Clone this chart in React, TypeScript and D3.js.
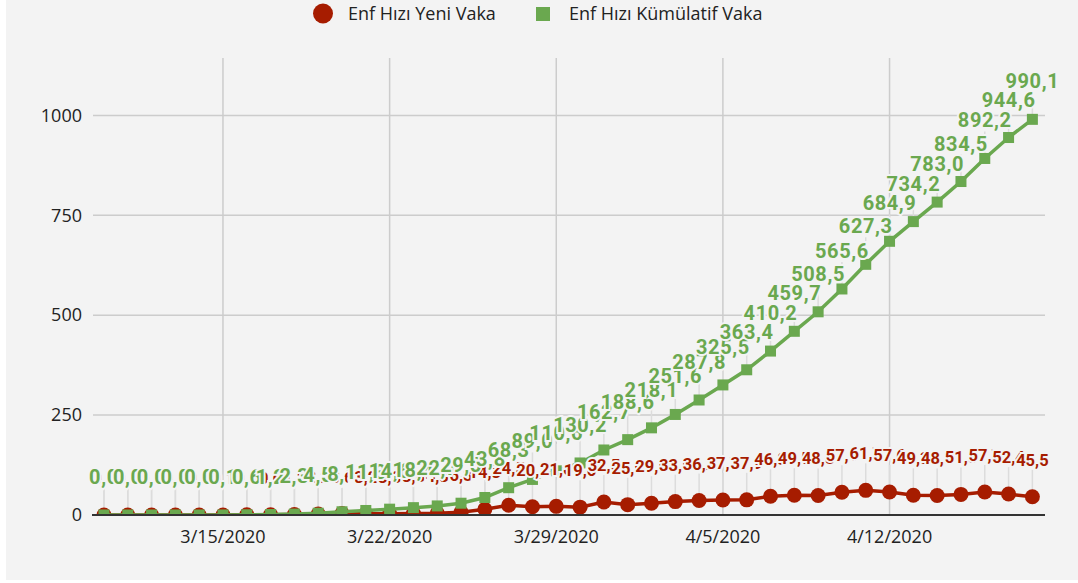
import { useEffect, useRef } from "react"
import * as d3 from "d3"

// days 3/10/2020 .. 4/18/2020
const dates = [
  "3/10/2020", "3/11/2020", "3/12/2020", "3/13/2020", "3/14/2020", "3/15/2020", "3/16/2020", "3/17/2020",
  "3/18/2020", "3/19/2020", "3/20/2020", "3/21/2020", "3/22/2020", "3/23/2020", "3/24/2020", "3/25/2020",
  "3/26/2020", "3/27/2020", "3/28/2020", "3/29/2020", "3/30/2020", "3/31/2020", "4/1/2020", "4/2/2020",
  "4/3/2020", "4/4/2020", "4/5/2020", "4/6/2020", "4/7/2020", "4/8/2020", "4/9/2020", "4/10/2020",
  "4/11/2020", "4/12/2020", "4/13/2020", "4/14/2020", "4/15/2020", "4/16/2020", "4/17/2020", "4/18/2020",
]

const yeniVaka = [
  0.0, 0.0, 0.0, 0.0, 0.0, 0.1, 0.5, 0.6, 1.1, 2.2, 3.6, 3.2, 3.3, 3.8, 4.3, 6.8, 14.3, 24.5, 20.7, 21.6,
  19.6, 32.5, 25.9, 29.5, 33.5, 36.2, 37.7, 37.9, 46.8, 49.5, 48.8, 57.1, 61.7, 57.6, 49.3, 48.8, 51.5, 57.7,
  52.4, 45.5,
]

const kumulatifVaka = [
  0.0, 0.0, 0.0, 0.0, 0.0, 0.1, 0.6, 1.2, 2.3, 4.5, 8.1, 11.3, 14.6, 18.4, 22.7, 29.5, 43.8, 68.3, 89.0, 110.6,
  130.2, 162.7, 188.6, 218.1, 251.6, 287.8, 325.5, 363.4, 410.2, 459.7, 508.5, 565.6, 627.3, 684.9, 734.2, 783.0,
  834.5, 892.2, 944.6, 990.1,
]

const xTickLabels = ["3/15/2020", "3/22/2020", "3/29/2020", "4/5/2020", "4/12/2020"]
const yTicks = [0, 250, 500, 750, 1000]

const seriesNames = ["Enf Hızı Yeni Vaka", "Enf Hızı Kümülatif Vaka"]

const RED = "#a61c00"
const GREEN = "#6aa84f"
const BG = "#f3f3f3"

const parse = d3.utcParse("%m/%d/%Y")
const DAY = 86400000

export default function App() {
  const svgRef = useRef<SVGSVGElement>(null)
  const width = 1078
  const height = 583

  useEffect(() => {
    if (!svgRef.current) return
    const root = d3.select(svgRef.current)
    root.selectAll("*").remove()

    root.append("rect").attr("x", 6).attr("y", 0).attr("width", width - 6).attr("height", 580).attr("fill", BG)

    const left = 93
    const right = 1045
    const top = 58
    const bottom = 515

    const parsed = dates.map((d) => parse(d) as Date)
    const x = d3
      .scaleUtc()
      .domain([new Date(+parsed[0] - 0.46 * DAY), new Date(+parsed[parsed.length - 1] + 0.53 * DAY)])
      .range([left, right])
    const y = d3.scaleLinear().domain([0, 1143.6]).range([bottom, top])

    const font = "'Open Sans', sans-serif"

    // grid
    const grid = root.append("g").attr("stroke", "#cccccc").attr("stroke-width", 1.5)
    yTicks
      .filter((t) => t > 0)
      .forEach((t) => {
        grid.append("line").attr("x1", left).attr("x2", right).attr("y1", y(t)).attr("y2", y(t))
      })
    xTickLabels.forEach((t) => {
      const xx = x(parse(t) as Date)
      grid.append("line").attr("x1", xx).attr("x2", xx).attr("y1", top).attr("y2", bottom)
    })

    // y labels
    root
      .append("g")
      .selectAll("text")
      .data(yTicks)
      .enter()
      .append("text")
      .attr("x", 82)
      .attr("y", (d) => y(d))
      .attr("dy", "0.35em")
      .attr("text-anchor", "end")
      .attr("font-family", font)
      .attr("font-size", 18)
      .attr("fill", "#222")
      .text((d) => String(d))

    // x labels
    root
      .append("g")
      .selectAll("text")
      .data(xTickLabels)
      .enter()
      .append("text")
      .attr("x", (d) => x(parse(d) as Date))
      .attr("y", 537)
      .attr("dy", "0.35em")
      .attr("text-anchor", "middle")
      .attr("font-family", font)
      .attr("font-size", 18)
      .attr("fill", "#222")
      .text((d) => d)

    // clip for plot area
    root
      .append("clipPath")
      .attr("id", "plot-clip")
      .append("rect")
      .attr("x", left)
      .attr("y", 0)
      .attr("width", right - left)
      .attr("height", bottom)

    const labelOffset = 31

    // leader lines
    const leaders = root.append("g").attr("stroke", "#dcdcdc").attr("stroke-width", 1.5)
    ;[yeniVaka, kumulatifVaka].forEach((vals) => {
      vals.forEach((v, i) => {
        leaders
          .append("line")
          .attr("x1", x(parsed[i]))
          .attr("x2", x(parsed[i]))
          .attr("y1", y(v) - labelOffset + 4)
          .attr("y2", y(v))
      })
    })

    const plot = root.append("g").attr("clip-path", "url(#plot-clip)")

    const line = (vals: number[]) =>
      d3
        .line<number>()
        .x((_, i) => x(parsed[i]))
        .y((d) => y(d))(vals)

    // red series
    plot.append("path").attr("d", line(yeniVaka)).attr("fill", "none").attr("stroke", RED).attr("stroke-width", 3.5)
    plot
      .append("g")
      .selectAll("circle")
      .data(yeniVaka)
      .enter()
      .append("circle")
      .attr("cx", (_, i) => x(parsed[i]))
      .attr("cy", (d) => y(d))
      .attr("r", 7.5)
      .attr("fill", RED)

    // green series
    plot
      .append("path")
      .attr("d", line(kumulatifVaka))
      .attr("fill", "none")
      .attr("stroke", GREEN)
      .attr("stroke-width", 3.5)
    plot
      .append("g")
      .selectAll("rect")
      .data(kumulatifVaka)
      .enter()
      .append("rect")
      .attr("x", (_, i) => x(parsed[i]) - 5.5)
      .attr("y", (d) => y(d) - 5.5)
      .attr("width", 11)
      .attr("height", 11)
      .attr("fill", GREEN)

    // axis line
    root
      .append("line")
      .attr("x1", left - 1)
      .attr("x2", right)
      .attr("y1", bottom)
      .attr("y2", bottom)
      .attr("stroke", "#333")
      .attr("stroke-width", 2)

    // data labels
    const fmt = (v: number) => d3.format(".1f")(v).replace(".", ",")
    const drawLabels = (vals: number[], color: string, size: number, spacing: number) => {
      root
        .append("g")
        .selectAll("text")
        .data(vals)
        .enter()
        .append("text")
        .attr("x", (_, i) => x(parsed[i]))
        .attr("y", (d) => y(d) - labelOffset)
        .attr("text-anchor", "middle")
        .attr("font-family", "Roboto, sans-serif")
        .attr("font-weight", "bold")
        .attr("font-size", size)
        .attr("letter-spacing", spacing)
        .attr("fill", color)
        .attr("stroke", BG)
        .attr("stroke-width", 4)
        .attr("paint-order", "stroke")
        .text((d) => fmt(d))
    }
    drawLabels(yeniVaka, RED, 16.5, 0)
    drawLabels(kumulatifVaka, GREEN, 20, 0.6)

    // legend
    const legend = root.append("g").attr("font-family", font).attr("font-size", 18).attr("fill", "#222")
    legend.append("circle").attr("cx", 323).attr("cy", 13.5).attr("r", 10).attr("fill", RED)
    legend.append("text").attr("x", 348).attr("y", 13.5).attr("dy", "0.35em").text(seriesNames[0])
    legend.append("rect").attr("x", 536).attr("y", 7).attr("width", 14).attr("height", 14).attr("fill", GREEN)
    legend.append("text").attr("x", 569).attr("y", 13.5).attr("dy", "0.35em").text(seriesNames[1])
  }, [])

  return (
    <svg
      ref={svgRef}
      width={width}
      height={height}
      style={{ position: "absolute", left: 0, top: 0, background: "#ffffff" }}
    ></svg>
  )
}
